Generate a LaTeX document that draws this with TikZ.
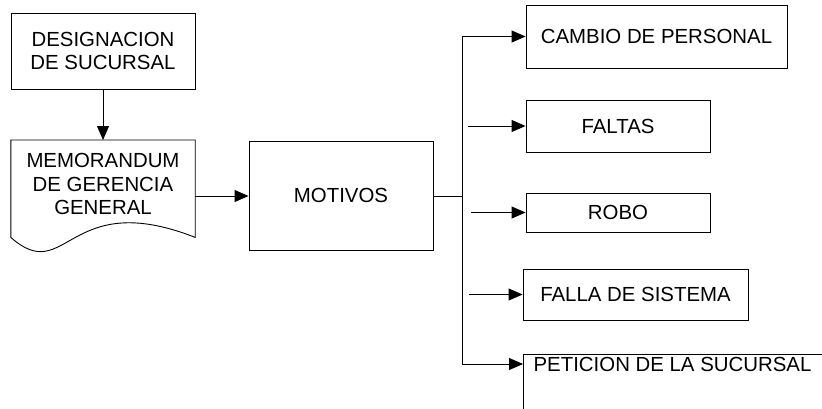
\documentclass[tikz,border=0pt]{standalone}
\usepackage{fontspec}
\setmainfont{Liberation Sans}
\usetikzlibrary{arrows.meta}
\begin{document}
\begin{tikzpicture}[x=1pt,y=-1pt,
  every node/.style={font=\fontsize{20.4}{23.5}\selectfont, align=center, inner sep=0pt},
  box/.style={draw, line width=0.9pt, rectangle},
  link/.style={line width=0.9pt},
  arr/.style={link, -{Triangle[length=14pt,width=12pt]}}]
\useasboundingbox (0,0) rectangle (822,408);
\clip (0,0) rectangle (822,408);
\fill[white] (0,0) rectangle (822,408);

% left column
\node[box, minimum width=184, minimum height=76] (desig) at (103,51) {DESIGNACION\\DE SUCURSAL};
\node[minimum width=184, minimum height=97, anchor=north] (memo) at (103,140) {};
\draw[line width=0.9pt] (memo.north west) -- (memo.north east) -- (memo.south east)
  .. controls (67,187) and (67,287) .. (memo.south west) -- cycle;
\node[anchor=base] (memotxt) at (103,214.5) {MEMORANDUM\\DE GERENCIA\\GENERAL};

% centre
\node[box, minimum width=184, minimum height=109] (motivos) at (341,195.5) {MOTIVOS};

% reasons
\node[box, minimum width=261, minimum height=63] (cambio) at (656.5,36.5) {CAMBIO DE PERSONAL};
\node[box, minimum width=184, minimum height=52] (faltas) at (618,126) {FALTAS};
\node[box, minimum width=184, minimum height=39] (robo) at (618,212.5) {ROBO};
\node[box, minimum width=225, minimum height=51] (falla) at (635.5,294.5) {FALLA DE SISTEMA};
\node[box, minimum width=299, minimum height=80, anchor=north west] (pet) at (523,354) {};
\node[anchor=base] (pettxt) at (672.5,371.5) {PETICION DE LA SUCURSAL};

% connectors
\draw[arr] (desig.south) -- (memo.north);
\draw[arr] (memo.east |- 0,196) -- (motivos.west |- 0,196);

\coordinate (jtop) at (462,36.5);
\coordinate (jmid) at (462,196);
\coordinate (jbot) at (462,364);
\draw[link] (motivos.east |- jmid) -- (jmid);
\draw[link] (jtop) -- (jbot);
\draw[arr] (jtop) -- (cambio.west);
\draw[arr] (jbot) -- (jbot -| pet.west);

\coordinate (sfaltas) at (468,126);
\coordinate (srobo) at (471,212.5);
\coordinate (sfalla) at (469,294.5);
\draw[arr] (sfaltas) -- (faltas.west);
\draw[arr] (srobo) -- (robo.west);
\draw[arr] (sfalla) -- (falla.west);
\end{tikzpicture}
\end{document}
